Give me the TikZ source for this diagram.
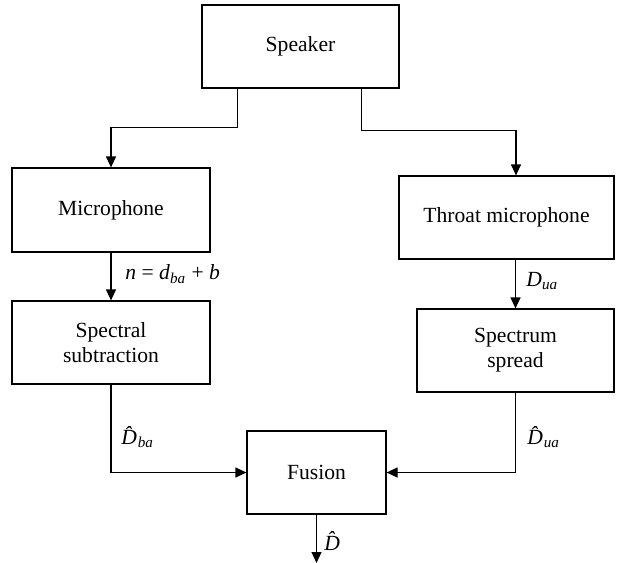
\documentclass[tikz,border=0pt]{standalone}
\usepackage{fontspec}
\setmainfont{Liberation Serif}
\usetikzlibrary{arrows.meta,calc}

% italic symbol helpers for the signal labels
\newcommand{\sym}[1]{\textit{#1}}
\newcommand{\symsub}[2]{\textit{#1}\textsubscript{\textit{#2}}}
% combining circumflex keeps an advance of its own: take it back
\newcommand{\hatD}{\textit{\^{D}}\kern-0.333em}

\tikzset{
  block/.style={draw, line width=0.6pt, fill=white, align=center,
    inner sep=0pt, font=\fontsize{10.8}{12.5}\selectfont},
  link/.style={line width=0.6pt, -{Triangle[length=5.5pt,width=5pt]}},
  sig/.style={anchor=west, inner sep=0pt, font=\fontsize{10.8}{12.5}\selectfont}
}

\begin{document}
\begin{tikzpicture}[x=0.5pt,y=-0.5pt]
  \useasboundingbox (0,0) rectangle (622,563);

  % processing blocks
  \node[block, minimum width=98.5pt, minimum height=41.5pt] (spk) at (300.5,46.5) {Speaker};
  \node[block, minimum width=99pt,   minimum height=42pt]   (mic) at (111,210) {Microphone};
  \node[block, minimum width=107.5pt,minimum height=41.5pt] (thr) at (506.5,217.5) {Throat microphone};
  \node[block, minimum width=99pt,   minimum height=41.5pt] (sub) at (111,342.5) {Spectral\\subtraction};
  \node[block, minimum width=98.5pt, minimum height=41.5pt] (spr) at (515.5,350.5) {Spectrum\\spread};
  \node[block, minimum width=69.5pt, minimum height=41.5pt] (fus) at (316.5,472.5) {Fusion};
  \coordinate (out) at (316.5,563);

  % connectors
  \draw[link] ($(spk.south west)+(36,0)$) -- ++(0,39) -| (mic.north);
  \draw[link] ($(spk.south east)+(-38,0)$) -- ++(0,42) -| ($(thr.north)+(9.5,0)$);
  \draw[link] (mic.south) -- (sub.north);
  \draw[link] (spr.north |- thr.south) -- (spr.north);
  \draw[link] (sub.south) |- (fus.west);
  \draw[link] (spr.south) |- (fus.east);
  \draw[link] (fus.south) -- (out);

  % signal labels
  \node[sig] (ln) at (125,274) {\sym{n} = \symsub{d}{ba} + \sym{b}};
  \node[sig] (ldu) at (526,281) {\symsub{D}{ua}};
  \node[sig] (ldba) at (121,437) {\hatD\textsubscript{\textit{ba}}};
  \node[sig] (ldua) at (527,437) {\hatD\textsubscript{\textit{ua}}};
  \node[sig] (ld) at (324,541) {\textit{\^{D}}};
\end{tikzpicture}
\end{document}
